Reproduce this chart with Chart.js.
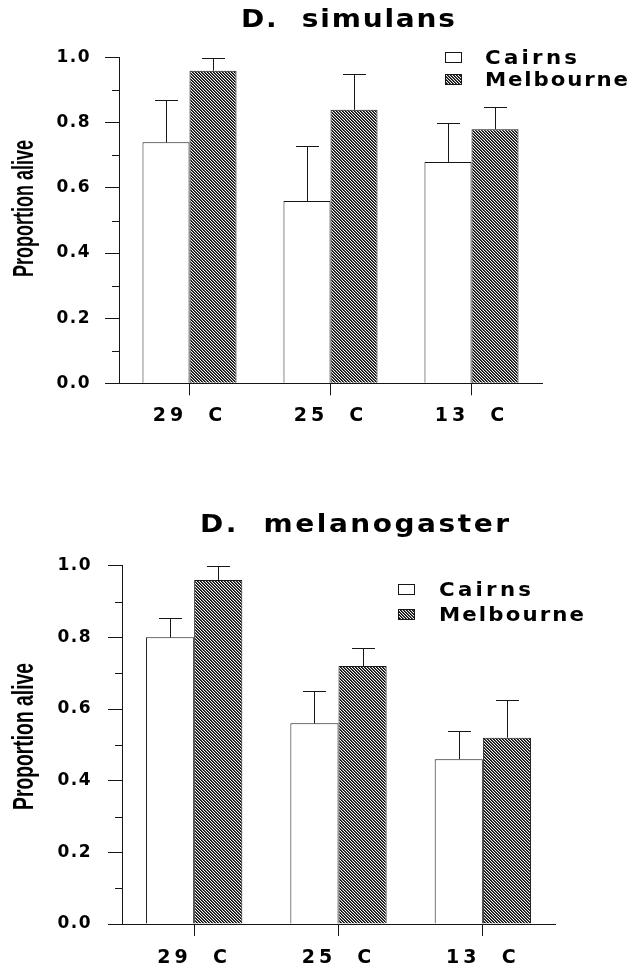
<!DOCTYPE html>
<html>
<head>
<meta charset="utf-8">
<script src="https://cdn.jsdelivr.net/npm/chart.js@4.4.0/dist/chart.umd.min.js"></script>
<style>
  html, body { margin: 0; padding: 0; background: #fff; }
  #wrap { position: relative; width: 629px; height: 968px; }
  .panel { position: absolute; left: 0; width: 629px; }
</style>
</head>
<body>
<div id="wrap">
  <div class="panel" style="top:0;height:480px"><canvas id="topChart" width="629" height="480"></canvas></div>
  <div class="panel" style="top:480px;height:488px"><canvas id="bottomChart" width="629" height="488"></canvas></div>
</div>
<script>
// categories and series
const categories = ["29  C", "25  C", "13  C"];
const seriesNames = ["Cairns", "Melbourne"];
const yTicks = [0, 0.2, 0.4, 0.6, 0.8, 1.0];
const yMinorTicks = [0.1, 0.3, 0.5, 0.7, 0.9];

// D. simulans: means and top of error bar
const simCairns = [0.74, 0.56, 0.68];
const simCairnsUpper = [0.87, 0.73, 0.80];
const simMelbourne = [0.96, 0.84, 0.78];
const simMelbourneUpper = [1.0, 0.95, 0.85];

// D. melanogaster
const melCairns = [0.80, 0.56, 0.46];
const melCairnsUpper = [0.855, 0.65, 0.54];
const melMelbourne = [0.96, 0.72, 0.52];
const melMelbourneUpper = [1.0, 0.77, 0.625];

const INK = "#161616";

// diagonal hatch used for the Melbourne bars
function makeHatch() {
  const c = document.createElement("canvas");
  c.width = 3;
  c.height = 3;
  const g = c.getContext("2d");
  const img = g.createImageData(3, 3);
  for (let y = 0; y < 3; y++) {
    for (let x = 0; x < 3; x++) {
      const d = ((x - y) % 3 + 3) % 3;
      const v = d === 0 ? 10 : d === 1 ? 75 : 245;
      const i = (y * 3 + x) * 4;
      img.data[i] = v; img.data[i + 1] = v; img.data[i + 2] = v; img.data[i + 3] = 255;
    }
  }
  g.putImageData(img, 0, 0);
  return g.createPattern(c, "repeat");
}
const hatch = makeHatch();

// draw text letter by letter, a little widened, so it fills a given width
function spacedText(ctx, text, x, y, width, stretch) {
  const chars = [...text];
  const widths = chars.map(ch => ctx.measureText(ch).width * stretch);
  const sum = widths.reduce((a, b) => a + b, 0);
  const gap = chars.length > 1 ? (width - sum) / (chars.length - 1) : 0;
  let cx = x;
  chars.forEach((ch, i) => {
    ctx.save();
    ctx.translate(cx, y);
    ctx.scale(stretch, 1);
    ctx.fillText(ch, 0, 0);
    ctx.restore();
    cx += widths[i] + gap;
  });
}

function makeChart(id, opts) {
  const decorations = {
    id: "decorations",
    beforeDraw(chart) {
      // y tick labels
      chart.ctx.letterSpacing = "1.5px";
    },
    afterDatasetsDraw(chart) {
      // x tick labels are drawn after the bars (ticks.z = 1)
      chart.ctx.letterSpacing = "4px";
    },
    afterDraw(chart) {
      const ctx = chart.ctx;
      const ys = chart.scales.y;
      const axisX = chart.chartArea.left;
      ctx.save();
      ctx.letterSpacing = "0px";
      ctx.strokeStyle = INK;
      ctx.lineWidth = 1;

      // minor y ticks
      ctx.beginPath();
      yMinorTicks.forEach(v => {
        const y = Math.round(ys.getPixelForValue(v)) + 0.5;
        ctx.moveTo(axisX - 7, y);
        ctx.lineTo(axisX, y);
      });
      ctx.stroke();

      // upper error bars
      ctx.beginPath();
      opts.upper.forEach((arr, i) => {
        chart.getDatasetMeta(i).data.forEach((bar, j) => {
          const x = Math.round(bar.x) + 0.5;
          const yTop = bar.y;
          const yErr = Math.round(ys.getPixelForValue(arr[j])) + 0.5;
          ctx.moveTo(x, yTop);
          ctx.lineTo(x, yErr);
          ctx.moveTo(x - 11.5, yErr);
          ctx.lineTo(x + 11.5, yErr);
        });
      });
      ctx.stroke();

      ctx.fillStyle = "#000";

      // title
      ctx.font = "bold 25px 'DejaVu Sans'";
      ctx.textBaseline = "alphabetic";
      ctx.textAlign = "left";
      spacedText(ctx, opts.title, opts.titleX, opts.titleY, opts.titleW, 1.12);

      // y axis title, condensed
      ctx.save();
      ctx.translate(opts.yTitleX, opts.yTitleY);
      ctx.rotate(-Math.PI / 2);
      ctx.font = "bold " + opts.yTitleSize + "px 'Liberation Sans'";
      const w = ctx.measureText("Proportion alive").width;
      ctx.scale(opts.yTitleLen / w, 1);
      ctx.textAlign = "center";
      ctx.fillText("Proportion alive", 0, 0);
      ctx.restore();

      // legend
      ctx.font = "bold 19px 'DejaVu Sans'";
      ctx.textAlign = "left";
      seriesNames.forEach((name, i) => {
        const by = opts.legendY[i];
        ctx.fillStyle = chart.data.datasets[i].backgroundColor;
        ctx.fillRect(opts.legendX, by, 16, 10);
        ctx.strokeRect(opts.legendX + 0.5, by + 0.5, 16, 10);
        ctx.fillStyle = "#000";
        spacedText(ctx, name, opts.legendTextX, by + 11.5, opts.legendW[i], 1.12);
      });
      ctx.restore();
    }
  };

  return new Chart(document.getElementById(id), {
    type: "bar",
    data: {
      labels: categories,
      datasets: [
        {
          label: seriesNames[0],
          data: opts.values[0],
          backgroundColor: "#fff",
          borderColor: INK,
          borderWidth: 1,
          barPercentage: 1.0,
          categoryPercentage: 0.667,
        },
        {
          label: seriesNames[1],
          data: opts.values[1],
          backgroundColor: hatch,
          borderColor: INK,
          borderWidth: 1,
          barPercentage: 1.0,
          categoryPercentage: 0.667,
        },
      ],
    },
    options: {
      responsive: false,
      animation: false,
      devicePixelRatio: 1,
      events: [],
      layout: {
        padding: { top: opts.padTop, right: opts.padRight, left: 0, bottom: 0 },
      },
      plugins: {
        legend: { display: false },
        tooltip: { enabled: false },
        title: { display: false },
      },
      scales: {
        x: {
          grid: { drawOnChartArea: false, offset: false, tickLength: 12, color: INK },
          border: { display: true, color: INK, width: 1 },
          ticks: {
            z: 1,
            color: "#000",
            maxRotation: 0,
            padding: opts.xPad,
            font: { family: "DejaVu Sans", weight: "bold", size: 19 },
          },
          afterFit(scale) { scale.height = opts.xHeight; },
        },
        y: {
          min: 0,
          max: 1,
          afterBuildTicks(scale) { scale.ticks = yTicks.map(v => ({ value: v })); },
          grid: { drawOnChartArea: false, tickLength: 14, color: INK },
          border: { display: true, color: INK, width: 1 },
          ticks: {
            color: "#000",
            padding: opts.yPad,
            font: { family: "DejaVu Sans", weight: "bold", size: 17 },
            callback: v => Number(v).toFixed(1),
          },
          afterFit(scale) { scale.width = opts.yWidth; },
        },
      },
    },
    plugins: [decorations],
  });
}

makeChart("topChart", {
  values: [simCairns, simMelbourne],
  upper: [simCairnsUpper, simMelbourneUpper],
  title: "D.  simulans",
  titleX: 241, titleY: 27, titleW: 214,
  yTitleX: 33, yTitleY: 208.5, yTitleLen: 137, yTitleSize: 29,
  legendX: 445, legendY: [52, 74], legendTextX: 485, legendW: [92, 143],
  padTop: 57.7, padRight: 87, xHeight: 96.7, yWidth: 119,
  xPad: 9, yPad: 14,
});

makeChart("bottomChart", {
  values: [melCairns, melMelbourne],
  upper: [melCairnsUpper, melMelbourneUpper],
  title: "D.  melanogaster",
  titleX: 200, titleY: 52, titleW: 309,
  yTitleX: 33, yTitleY: 256.5, yTitleLen: 147, yTitleSize: 30,
  legendX: 398, legendY: [104, 129], legendTextX: 439, legendW: [92, 145],
  padTop: 85.7, padRight: 74, xHeight: 44, yWidth: 122,
  xPad: 11, yPad: 16,
});
</script>
</body>
</html>
